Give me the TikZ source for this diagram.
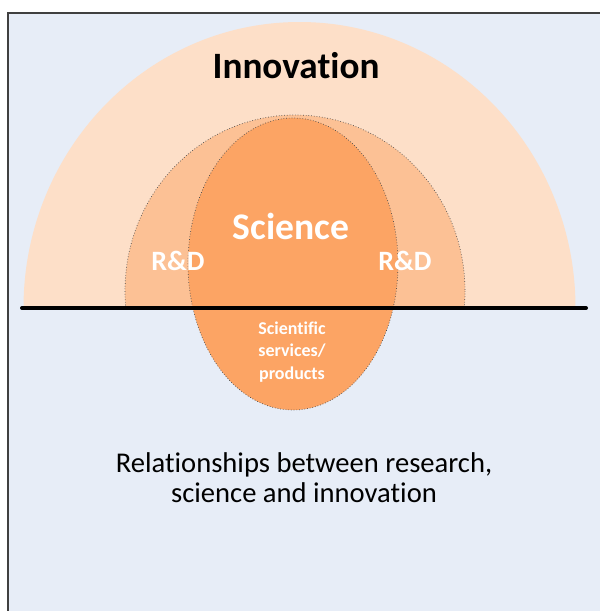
\documentclass[tikz,border=0pt]{standalone}
\usepackage{fontspec}
\setmainfont{Carlito}[Ligatures={NoCommon}]
\usetikzlibrary{positioning}
\definecolor{paneblue}{HTML}{E7EDF7}
\definecolor{innofill}{HTML}{FDDFC8}
\definecolor{rdfill}{HTML}{FCC195}
\definecolor{scifill}{HTML}{FCA464}
\tikzstyle{blob}=[draw=black!70, densely dotted, line width=0.35pt]
\tikzstyle{whitetext}=[text=white, align=center, inner sep=0pt]
\newcommand{\wnode}{\node[whitetext]}

\begin{document}
\begin{tikzpicture}[x=0.5pt, y=-0.5pt]
\useasboundingbox (0,0) rectangle (600,611);
\clip (0,0) rectangle (600,611);
\fill[paneblue] (7.5,12.5) rectangle (620,630);
\draw[line width=1pt, black!75] (7.5,630) -- (7.5,12.5) -- (620,12.5);
% upper half: innovation and R&D
\begin{scope}
\clip (0,0) rectangle (600,308);
\fill[innofill] (299.5,308) ellipse [x radius=276, y radius=286];
\filldraw[fill=rdfill, blob] (295,291) ellipse [x radius=170, y radius=176];
\end{scope}
\filldraw[fill=scifill, blob] (293,264) ellipse [x radius=105, y radius=146];
\coordinate (lineL) at (22,308);
\coordinate (lineR) at (586,308);
\draw[line width=2pt, line cap=round] (lineL) -- (lineR);

\node[inner sep=0pt, font=\fontsize{18.6}{20}\selectfont\bfseries] (innov) at (296,66) {Innovation};
\wnode[font=\fontsize{18.8}{20}\selectfont\bfseries] (sci) at (291,226) {Science};
\wnode[font=\fontsize{14}{16}\selectfont\bfseries] (rdl) at (178,261) {R\&D};
\wnode[font=\fontsize{14}{16}\selectfont\bfseries] (rdr) at (405,261) {R\&D};
\wnode[font=\fontsize{9}{11.4}\selectfont\bfseries] (serv) at (292,352) {Scientific\\services/\\products};
\node[inner sep=0pt, align=center, font=\fontsize{14.3}{15}\selectfont] (caption) at (304,478)
  {Relationships between research,\\science and innovation};
\end{tikzpicture}
\end{document}
